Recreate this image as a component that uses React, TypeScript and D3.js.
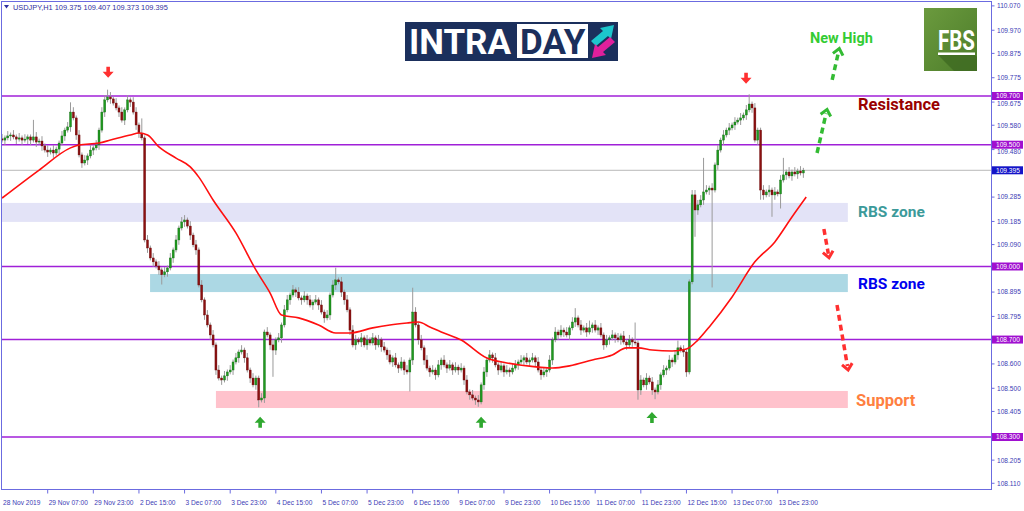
import React from 'react';
import * as d3 from 'd3';

// ---------- DATA ----------
const symbolTitle = 'USDJPY,H1  109.375 109.407 109.373 109.395';
const firstOpen = 109.524;
const closes = [
  109.519,109.528,109.536,109.540,109.532,109.523,109.528,109.519,109.523,109.532,
  109.519,109.532,109.511,109.515,109.495,109.478,109.470,109.478,109.466,109.482,
  109.507,109.536,109.560,109.573,109.634,109.610,109.540,109.458,109.425,109.437,
  109.454,109.478,109.487,109.499,109.560,109.634,109.684,109.696,109.688,109.671,
  109.651,109.634,109.601,109.643,109.684,109.675,109.634,109.581,109.548,109.528,
  109.109,109.076,109.035,109.019,109.002,108.986,108.966,108.978,108.994,109.035,
  109.068,109.109,109.158,109.183,109.191,109.166,109.129,109.089,109.068,108.924,
  108.863,108.801,108.760,108.719,108.678,108.575,108.542,108.534,108.551,108.567,
  108.575,108.608,108.625,108.649,108.657,108.625,108.575,108.542,108.514,108.542,
  108.452,108.460,108.731,108.719,108.678,108.657,108.699,108.707,108.760,108.822,
  108.863,108.883,108.904,108.895,108.871,108.863,108.879,108.863,108.842,108.854,
  108.863,108.842,108.813,108.789,108.801,108.883,108.924,108.945,108.937,108.895,
  108.863,108.822,108.739,108.678,108.699,108.690,108.707,108.678,108.699,108.686,
  108.707,108.678,108.699,108.670,108.657,108.637,108.608,108.625,108.596,108.583,
  108.608,108.575,108.567,108.616,108.813,108.760,108.699,108.666,108.616,108.583,
  108.567,108.575,108.555,108.596,108.616,108.596,108.583,108.596,108.575,108.587,
  108.575,108.583,108.534,108.485,108.473,108.460,108.452,108.444,108.514,108.567,
  108.616,108.637,108.625,108.596,108.575,108.592,108.567,108.575,108.567,108.583,
  108.596,108.608,108.616,108.625,108.608,108.616,108.625,108.608,108.575,108.555,
  108.567,108.575,108.616,108.699,108.731,108.719,108.739,108.731,108.719,108.748,
  108.772,108.789,108.760,108.739,108.748,108.731,108.748,108.760,108.739,108.748,
  108.719,108.678,108.699,108.707,108.719,108.707,108.699,108.715,108.690,108.678,
  108.699,108.690,108.686,108.493,108.534,108.514,108.542,108.526,108.493,108.485,
  108.514,108.555,108.575,108.583,108.616,108.608,108.637,108.666,108.657,108.649,
  108.567,108.937,109.294,109.232,109.253,109.273,109.306,109.314,109.322,109.314,
  109.417,109.478,109.519,109.540,109.560,109.569,109.581,109.593,109.601,109.610,
  109.622,109.643,109.667,109.651,109.519,109.560,109.314,109.294,109.306,109.314,
  109.294,109.306,109.298,109.355,109.376,109.388,109.372,109.388,109.380,109.392,
  109.384,109.395,
];
// wick extents beyond the body, in pips (0.01)
const upperWicks = [
  2,1,2,1,2,1,2,1,2,1, 1,7,2,1,2,1,2,1,2,1,
  1,2,1,2,4,2,1,2,1,2, 1,2,1,2,1,2,2,3,2,1,
  2,1,2,1,2,1,2,2,1,6, 1,2,1,2,1,2,1,2,1,2,
  1,2,1,2,2,1,2,1,2,1, 2,1,2,1,2,1,2,1,2,1,
  2,1,2,1,2,1,2,1,2,1, 1,2,1,2,1,2,1,2,1,2,
  2,1,2,1,2,1,2,1,2,1, 2,1,2,1,2,1,2,5,1,2,
  1,2,1,2,2,1,2,1,2,1, 2,1,2,1,2,1,2,1,2,1,
  2,1,2,1,10,2,1,2,1,2, 1,2,1,2,1,2,1,2,1,2,
  1,2,1,2,1,2,1,2,1,2, 1,2,1,2,1,2,1,2,1,2,
  2,1,2,1,2,1,2,1,2,1, 2,1,2,1,2,1,2,1,2,1,
  2,4,1,2,1,2,3,1,2,1, 2,1,2,1,2,1,2,1,2,1,
  2,1,8,1,2,1,2,1,2,1, 2,1,2,1,2,1,2,3,1,2,
  1,1,2,2,2,2,14,2,1,2, 1,2,1,2,1,2,1,2,1,2,
  1,2,4,1,2,1,1,2,1,2, 1,2,1,2,7,1,2,1,2,1,
  2,1,
];
const lowerWicks = [
  1,2,1,2,1,2,1,2,1,2, 2,1,2,1,2,1,2,1,2,1,
  2,1,2,1,2,1,2,1,2,1, 2,1,2,1,2,1,2,1,2,1,
  1,2,1,2,1,2,1,2,2,1, 1,2,1,2,1,2,4,1,2,1,
  2,1,2,1,2,1,2,1,2,1, 1,2,1,2,1,2,1,2,1,2,
  1,2,1,2,1,2,1,2,1,2, 3,1,2,1,2,11,2,1,2,1,
  1,2,1,2,1,2,1,2,1,2, 1,2,1,2,1,2,1,2,1,2,
  2,1,2,1,2,1,2,1,2,1, 1,2,1,2,1,2,1,2,1,2,
  1,2,1,8,2,1,2,1,2,1, 2,1,2,1,2,1,2,1,2,1,
  2,1,2,1,2,1,2,2,1,2, 2,1,2,1,2,1,2,1,2,1,
  1,2,1,2,1,2,1,2,1,2, 1,2,1,2,1,2,1,2,1,2,
  1,2,1,2,1,2,1,2,1,2, 1,2,1,2,1,2,1,2,1,2,
  1,2,1,4,2,1,2,1,2,3, 1,2,1,2,1,2,1,2,1,2,
  2,1,1,11,2,1,2,1,2,40, 1,2,1,2,1,2,1,2,1,2,
  1,2,1,2,1,2,4,2,1,2, 9,2,1,6,1,2,1,2,1,2,
  1,2,
];
// moving average (bar index, value)
const maBars = [0,13,24,27,34,38,45,48,51,55,61,66,69,74,82,89,94,98,104,111,117,122,130,136,142,146,150,154,161,170,177,188,193,199,207,214,219,223,228,235,240,244,248,256,264,271,277,282];
const maValues = [109.281,109.396,109.487,109.499,109.507,109.519,109.540,109.548,109.540,109.491,109.445,109.409,109.367,109.273,109.138,108.986,108.891,108.801,108.789,108.760,108.727,108.727,108.748,108.760,108.768,108.772,108.752,108.731,108.698,108.624,108.604,108.587,108.583,108.592,108.616,108.637,108.666,108.666,108.657,108.653,108.661,108.698,108.752,108.875,109.019,109.101,109.203,109.285];

const timeLabels = ['28 Nov 2019','29 Nov 07:00','29 Nov 23:00','2 Dec 15:00','3 Dec 07:00','3 Dec 23:00','4 Dec 15:00','5 Dec 07:00','5 Dec 23:00','6 Dec 15:00','9 Dec 07:00','9 Dec 23:00','10 Dec 15:00','11 Dec 07:00','11 Dec 23:00','12 Dec 15:00','13 Dec 07:00','13 Dec 23:00'];
const barsPerLabel = 16;
// scale ticks; ticks hidden under a price marker keep only their tick mark
const priceTicks = [110.07,109.97,109.875,109.775,109.675,109.58,109.48,109.385,109.285,109.185,109.09,108.99,108.895,108.795,108.695,108.6,108.5,108.405,108.305,108.205,108.11];
const hiddenTickLabels = [109.385, 108.99, 108.695, 108.305];
const levelLines = [109.7, 109.5, 109.0, 108.7, 108.3];
const currentPrice = 109.395;

const zoneLabels = ['RBS zone', 'RBS zone', 'Support'];
const zoneTops = [109.261, 108.969, 108.489];
const zoneBottoms = [109.183, 108.895, 108.419];
const zoneStartBars = [0, 51.9, 75];
const zoneEndBar = 296.6;
const resistanceLabel = 'Resistance';
const newHighLabel = 'New High';

// signal arrows (bar, price)
const topArrowBars = [37.2, 260.9];
const topArrowPrices = [109.80, 109.775];
const bottomArrowBars = [90.5, 168, 227.9];
const bottomArrowPrices = [108.358, 108.358, 108.378];

// projected dashed arrows: [fromBar, fromPrice, toBar, toPrice]
const greenPaths = [[285.8, 109.466, 289.3, 109.645], [291.1, 109.766, 293.6, 109.895]];
const redPaths = [[288.2, 109.154, 290.0, 109.036], [292.8, 108.842, 296.7, 108.575]];

// ---------- STYLE ----------
const W = 1024, H = 511;
const frame = { left: 1.5, top: 1.5, right: 991.5, bottom: 489.5 };
const axisText = '#3b3bb5';
const axisLine = '#6b6be0';
const levelColor = '#a020d8';

export default function App() {
  const x = d3.scaleLinear().domain([0, 272]).range([2.07, 777.7]);
  const y = d3.scaleLinear().domain([108.3, 109.7]).range([437, 96]);

  const bars = closes.map((c, i) => {
    const o = i === 0 ? firstOpen : closes[i - 1];
    const hi = Math.max(o, c) + upperWicks[i] * 0.01;
    const lo = Math.min(o, c) - lowerWicks[i] * 0.01;
    return { i, o, c, hi, lo };
  });

  const maLine = d3.line<number>()
    .x((_, k) => x(maBars[k]))
    .y((v) => y(v))
    .curve(d3.curveMonotoneX)(maValues) as string;

  const fmt = d3.format('.3f');

  // a tick label sitting just under a level marker is nudged so it peeks out below it
  const labelShift = (v: number) =>
    levelLines.some((l) => l > v && y(v) - y(l) < 7) ? 2 : 0;

  const dashedArrow = (p: number[], color: string, key: string) => {
    const x1 = x(p[0]), y1 = y(p[1]), x2 = x(p[2]), y2 = y(p[3]);
    const ang = Math.atan2(y2 - y1, x2 - x1);
    const L = 8, a = 0.7;
    const hx1 = x2 - L * Math.cos(ang - a), hy1 = y2 - L * Math.sin(ang - a);
    const hx2 = x2 - L * Math.cos(ang + a), hy2 = y2 - L * Math.sin(ang + a);
    const sx = x2 - 4 * Math.cos(ang), sy = y2 - 4 * Math.sin(ang);
    return (
      <g key={key}>
        <line x1={x1} y1={y1} x2={sx} y2={sy} stroke={color} strokeWidth={3.5} strokeDasharray="6 4" />
        <polyline points={`${hx1},${hy1} ${x2},${y2} ${hx2},${hy2}`} fill="none" stroke={color} strokeWidth={3} />
      </g>
    );
  };

  return (
    <svg width={W} height={H} style={{ position: 'fixed', left: 0, top: 0, background: '#fff' }}
      fontFamily="'Liberation Sans', Arial, sans-serif">
      <defs>
        <clipPath id="plot">
          <rect x={frame.left} y={frame.top} width={frame.right - frame.left} height={frame.bottom - frame.top} />
        </clipPath>
        <linearGradient id="fbsg" x1="0" y1="0" x2="1" y2="1">
          <stop offset="0" stopColor="#6b9a3e" />
          <stop offset="1" stopColor="#4d7d2a" />
        </linearGradient>
      </defs>
      <rect x={0} y={0} width={W} height={H} fill="#fff" />

      <g clipPath="url(#plot)">
        {/* zones */}
        {zoneTops.map((t, k) => (
          <rect key={'z' + k} x={x(zoneStartBars[k])} y={y(t)} width={x(zoneEndBar) - x(zoneStartBars[k])}
            height={y(zoneBottoms[k]) - y(t)} fill={['#e3e3f7', '#acd8e4', '#ffc2cc'][k]} />
        ))}
        {/* current price line */}
        <line x1={frame.left} x2={frame.right} y1={y(currentPrice)} y2={y(currentPrice)} stroke="#b8b8b8" strokeWidth={1} />
        {/* levels */}
        {levelLines.map((v) => (
          <line key={'l' + v} x1={frame.left} x2={frame.right} y1={y(v)} y2={y(v)} stroke={levelColor} strokeWidth={1.5} />
        ))}
        {/* candles */}
        {bars.map((b) => {
          const cx = x(b.i);
          const up = b.c >= b.o;
          const top = y(Math.max(b.o, b.c)), bot = y(Math.min(b.o, b.c));
          return (
            <g key={'c' + b.i}>
              <line x1={cx} x2={cx} y1={y(b.hi)} y2={y(b.lo)} stroke="#9a9a9a" strokeWidth={1} />
              <rect x={cx - 1} y={top} width={2} height={Math.max(1, bot - top)}
                fill={up ? '#1f9a1f' : '#8b1010'} stroke={up ? '#156a15' : '#6a0808'} strokeWidth={0.4} />
            </g>
          );
        })}
        {/* moving average */}
        <path d={maLine} fill="none" stroke="#ff1010" strokeWidth={1.6} />
      </g>

      {/* frame */}
      <rect x={frame.left} y={frame.top} width={frame.right - frame.left} height={frame.bottom - frame.top}
        fill="none" stroke={axisLine} strokeWidth={1} />

      {/* header */}
      <path d="M4,5 L9,5 L6.5,8.5 Z" fill="#2f2fa0" />
      <text x={13} y={10} fontSize={7.4} fill="#2f2fa0">{symbolTitle}</text>

      {/* price axis */}
      {priceTicks.map((v) => (
        <g key={'t' + v}>
          <line x1={frame.right} x2={frame.right + 3} y1={y(v)} y2={y(v)} stroke={axisLine} />
          {!hiddenTickLabels.includes(v) && (
            <text x={997} y={y(v) + 2.4 + labelShift(v)} fontSize={6.6} fill={axisText}>{fmt(v)}</text>
          )}
        </g>
      ))}
      {levelLines.map((v) => (
        <g key={'hl' + v}>
          <rect x={992} y={y(v) - 4} width={31} height={8} fill="#a010d0" />
          <text x={996} y={y(v) + 2.4} fontSize={6.6} fill="#fff">{fmt(v)}</text>
        </g>
      ))}
      <rect x={992} y={y(currentPrice) - 4} width={31} height={8} fill="#1414c8" />
      <text x={996} y={y(currentPrice) + 2.4} fontSize={6.6} fill="#fff">{fmt(currentPrice)}</text>

      {/* time axis */}
      {timeLabels.map((t, k) => {
        const xx = x(k * barsPerLabel);
        return (
          <g key={'tl' + k}>
            {k > 0 && <line x1={xx} x2={xx} y1={frame.bottom} y2={frame.bottom + 4} stroke={axisLine} />}
            <text x={xx + 1} y={505} fontSize={6.6} fill={axisText}>{t}</text>
          </g>
        );
      })}

      {/* signal arrows */}
      {topArrowBars.map((b, k) => {
        const cx = x(b), cy = y(topArrowPrices[k]);
        return <path key={'ta' + k} d={`M${cx - 1.8},${cy - 5} L${cx + 1.8},${cy - 5} L${cx + 1.8},${cy} L${cx + 5.5},${cy} L${cx},${cy + 6} L${cx - 5.5},${cy} L${cx - 1.8},${cy} Z`} fill="#ff3030" />;
      })}
      {bottomArrowBars.map((b, k) => {
        const cx = x(b), cy = y(bottomArrowPrices[k]);
        return <path key={'ba' + k} d={`M${cx - 1.8},${cy + 5} L${cx + 1.8},${cy + 5} L${cx + 1.8},${cy} L${cx + 5.5},${cy} L${cx},${cy - 6} L${cx - 5.5},${cy} L${cx - 1.8},${cy} Z`} fill="#2fa82f" />;
      })}

      {/* projections */}
      {greenPaths.map((p, k) => dashedArrow(p, '#33bb33', 'g' + k))}
      {redPaths.map((p, k) => dashedArrow(p, '#ff3030', 'r' + k))}

      {/* annotation texts */}
      <g fontFamily="Roboto, 'Open Sans', sans-serif" fontWeight="bold" fontSize={15.5}>
        <text x={858} y={110} fill="#990000" fontSize={16.5}>{resistanceLabel}</text>
        <text x={858} y={217} fill="#3c9a9a">{zoneLabels[0]}</text>
        <text x={858} y={289} fill="#0000ee">{zoneLabels[1]}</text>
        <text x={856} y={406} fill="#ff7f40" fontSize={16.5}>{zoneLabels[2]}</text>
        <text x={810} y={43} fill="#33cc33" fontSize={14.5}>{newHighLabel}</text>
      </g>

      {/* INTRADAY logo */}
      <g>
        <rect x={405} y={22} width={213} height={39} fill="#1b2f5c" />
        <text x={409} y={54} fontFamily="Roboto, sans-serif" fontWeight="bold" fontSize={35} fill="#fff">INTRA</text>
        <rect x={517} y={24} width={71} height={34} fill="#fff" />
        <text x={520} y={54} fontFamily="Roboto, sans-serif" fontWeight="bold" fontSize={35} fill="#1b2f5c">DAY</text>
        <path d="M591,41 L603,31 L600,28 L614,25 L611,39 L608,36 L596,46 Z" fill="#1cc6cc" />
        <path d="M615,42 L603,52 L606,55 L592,58 L595,44 L598,47 L610,37 Z" fill="#e0209c" />
      </g>

      {/* FBS logo */}
      <g>
        <rect x={924} y={8} width={53} height={63} fill="url(#fbsg)" />
        <path d="M938,55 L975,55 L977,57 L977,71 L954,71 Z" fill="#3f6a22" opacity={0.8} />
        <text x={938} y={50} fontFamily="Roboto, sans-serif" fontWeight="bold" fontSize={27} fill="#fff"
          textLength={37} lengthAdjust="spacingAndGlyphs">FBS</text>
        <rect x={938} y={52.5} width={37} height={2.5} fill="#fff" />
      </g>
    </svg>
  );
}
